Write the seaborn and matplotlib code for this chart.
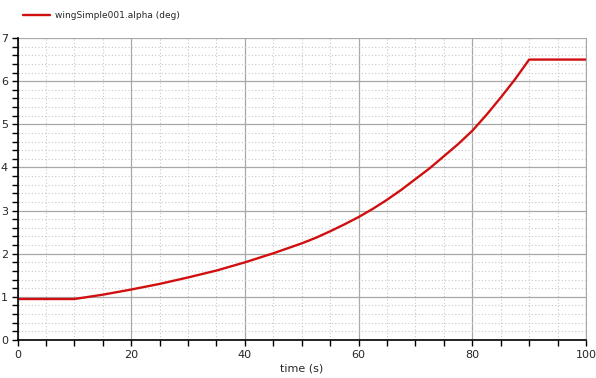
import numpy as np
import pandas as pd
import matplotlib
matplotlib.use("Agg")
import matplotlib.pyplot as plt
from matplotlib.ticker import MultipleLocator
import seaborn as sns

# 读图估计的数据
time_s = [0, 10, 15, 20, 25, 30, 35, 40, 45, 50, 52.5, 55, 57.5, 60, 62.5, 65,
          67.5, 70, 72.5, 75, 77.5, 80, 82.5, 85, 87.5, 90, 100]
alpha_deg = [0.95, 0.95, 1.05, 1.17, 1.30, 1.45, 1.61, 1.80, 2.01, 2.24, 2.37, 2.52,
             2.68, 2.85, 3.04, 3.25, 3.48, 3.73, 3.98, 4.26, 4.54, 4.85, 5.22,
             5.62, 6.04, 6.50, 6.50]
series_name = "wingSimple001.alpha (deg)"

df = pd.DataFrame({"time": time_s, "alpha": alpha_deg})

sns.set_style("white")
plt.rcParams['font.family'] = ['DejaVu Sans']

fig = plt.figure(figsize=(5.96, 3.78), dpi=100)
ax = fig.add_axes([17.5 / 596, 38 / 378, 568.5 / 596, 302 / 378])

sns.lineplot(data=df, x="time", y="alpha", ax=ax, color="#d01010", linewidth=1.7,
             label=series_name)

ax.set_xlim(0, 100)
ax.set_ylim(0, 7)
ax.xaxis.set_major_locator(MultipleLocator(20))
ax.xaxis.set_minor_locator(MultipleLocator(5))
ax.yaxis.set_major_locator(MultipleLocator(1))
ax.yaxis.set_minor_locator(MultipleLocator(0.2))

ax.grid(which="major", color="#a8a8a8", linewidth=0.9, linestyle="-")
ax.grid(which="minor", color="#c8c8c8", linewidth=0.8, linestyle=(0, (1, 2)))
ax.set_axisbelow(True)

ax.tick_params(which="both", direction="out", length=4, width=1, color="black",
               labelsize=8, pad=3)
ax.tick_params(which="both", bottom=True, left=True)

ax.spines["top"].set_visible(False)
ax.spines["right"].set_color("#a8a8a8")
ax.spines["left"].set_color("black")
ax.spines["bottom"].set_color("black")
ax.spines["left"].set_linewidth(1.2)
ax.spines["bottom"].set_linewidth(1.2)

ax.set_xlabel("time (s)", fontsize=8, labelpad=3)
ax.set_ylabel("")

ax.legend(loc="lower left", bbox_to_anchor=(0.004, 1.048), frameon=False, fontsize=6.5,
          handlelength=3.0, handletextpad=0.5, borderaxespad=0)

fig.savefig("out.png", dpi=100)
